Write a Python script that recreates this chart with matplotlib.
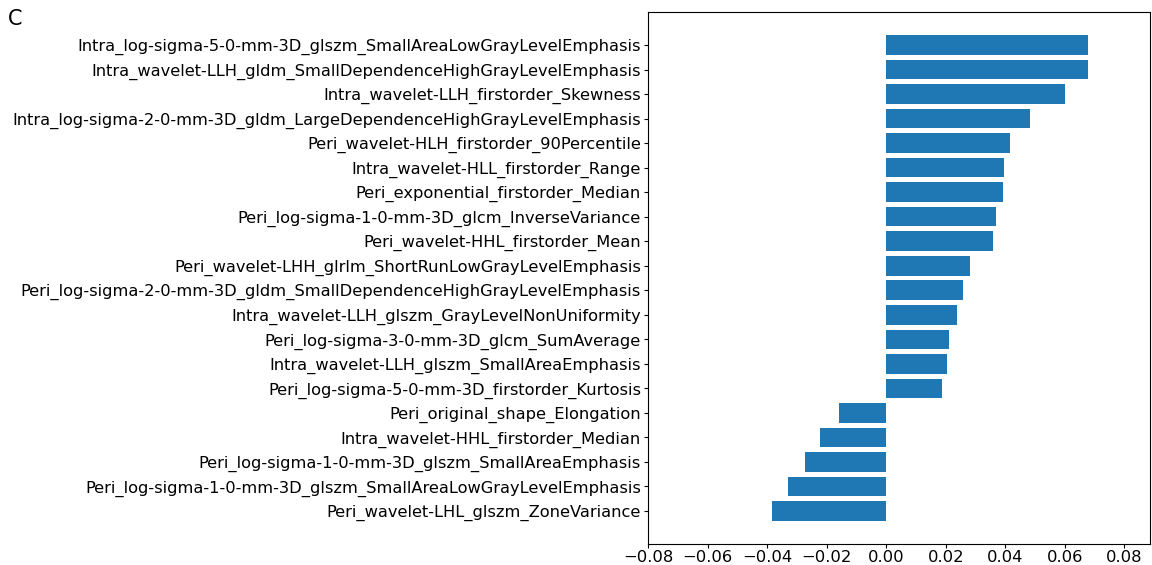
import numpy as np
import matplotlib.pyplot as plt

features = [
    "Intra_log-sigma-5-0-mm-3D_glszm_SmallAreaLowGrayLevelEmphasis",
    "Intra_wavelet-LLH_gldm_SmallDependenceHighGrayLevelEmphasis",
    "Intra_wavelet-LLH_firstorder_Skewness",
    "Intra_log-sigma-2-0-mm-3D_gldm_LargeDependenceHighGrayLevelEmphasis",
    "Peri_wavelet-HLH_firstorder_90Percentile",
    "Intra_wavelet-HLL_firstorder_Range",
    "Peri_exponential_firstorder_Median",
    "Peri_log-sigma-1-0-mm-3D_glcm_InverseVariance",
    "Peri_wavelet-HHL_firstorder_Mean",
    "Peri_wavelet-LHH_glrlm_ShortRunLowGrayLevelEmphasis",
    "Peri_log-sigma-2-0-mm-3D_gldm_SmallDependenceHighGrayLevelEmphasis",
    "Intra_wavelet-LLH_glszm_GrayLevelNonUniformity",
    "Peri_log-sigma-3-0-mm-3D_glcm_SumAverage",
    "Intra_wavelet-LLH_glszm_SmallAreaEmphasis",
    "Peri_log-sigma-5-0-mm-3D_firstorder_Kurtosis",
    "Peri_original_shape_Elongation",
    "Intra_wavelet-HHL_firstorder_Median",
    "Peri_log-sigma-1-0-mm-3D_glszm_SmallAreaEmphasis",
    "Peri_log-sigma-1-0-mm-3D_glszm_SmallAreaLowGrayLevelEmphasis",
    "Peri_wavelet-LHL_glszm_ZoneVariance",
]
coefs = [
    0.0679, 0.0677, 0.0602, 0.0484, 0.0417, 0.0396, 0.0392, 0.0369, 0.0359,
    0.0280, 0.0257, 0.0239, 0.0210, 0.0204, 0.0188,
    -0.0159, -0.0222, -0.0272, -0.0331, -0.0383,
]

fig = plt.figure(figsize=(11.52, 5.65), dpi=100)
ax = fig.add_axes([648 / 1152, 21 / 565, 502 / 1152, 532 / 565])

y = np.arange(len(features))
ax.barh(y, coefs, height=0.8, color="#1f77b4")
ax.set_yticks(y)
ax.set_yticklabels(features, fontsize=11.7)
ax.tick_params(axis="y", length=3, pad=2)
ax.tick_params(axis="x", labelsize=11.8, length=3, pad=1)
ax.set_xlim(-0.08, 0.0886)
ax.set_xticks(np.arange(-0.08, 0.081, 0.02))
ax.set_ylim(len(features) - 1 + 1.345, -1.345)

fig.text(8 / 1152, 1 - 19 / 565, "C", fontsize=15, va="center", ha="left")

fig.savefig("out.png", dpi=100)
